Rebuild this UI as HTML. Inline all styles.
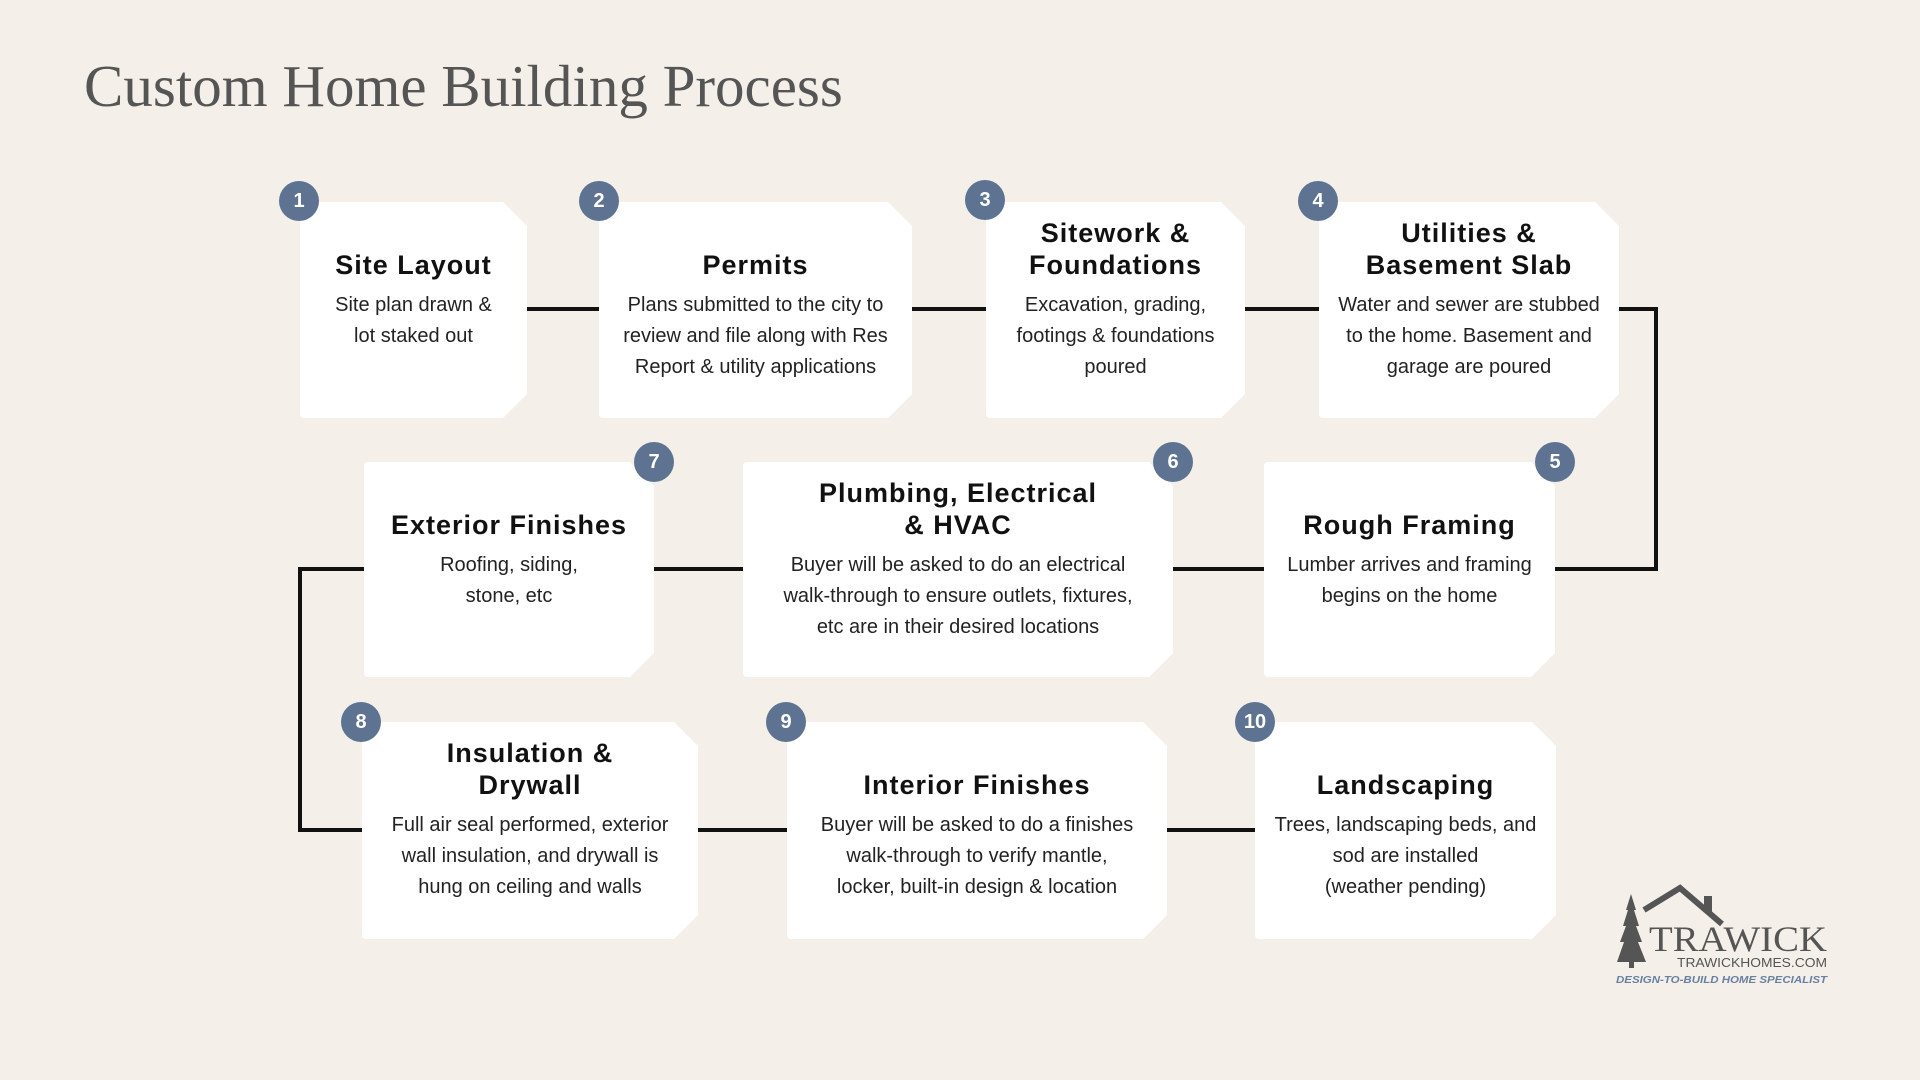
<!DOCTYPE html>
<html><head><meta charset="utf-8"><style>
body{margin:0;width:1920px;height:1080px;background:#f4f0e9;position:relative;overflow:hidden;font-family:"Liberation Sans",sans-serif}
h1{position:absolute;left:84px;top:52px;margin:0;font:400 59px "Liberation Serif",serif;color:#555}
.c{position:absolute;background:#fff;clip-path:polygon(0 0,calc(100% - 24px) 0,100% 24px,100% calc(100% - 24px),calc(100% - 24px) 100%,0 100%);border-radius:4px 0 0 4px}
.t{position:absolute;left:0;right:0;bottom:calc(100% - 79px);text-align:center;font-weight:bold;font-size:27px;line-height:32px;color:#111;letter-spacing:1px}
.b{position:absolute;left:0;right:0;top:88px;text-align:center;font-size:20px;line-height:31px;color:#222}
.n{position:absolute;width:40px;height:40px;margin:-20px 0 0 -20px;border-radius:50%;background:#5d7391;color:#fff;font-weight:bold;font-size:20px;line-height:40px;text-align:center}
.l{position:absolute;background:#111}
</style></head><body>
<h1>Custom Home Building Process</h1>
<div class="l" style="left:520px;top:307px;width:820px;height:4px"></div>
<div class="l" style="left:1610px;top:307px;width:48px;height:4px"></div>
<div class="l" style="left:1654px;top:307px;width:4px;height:264px"></div>
<div class="l" style="left:1540px;top:567px;width:118px;height:4px"></div>
<div class="l" style="left:298px;top:567px;width:1000px;height:4px"></div>
<div class="l" style="left:298px;top:567px;width:4px;height:265px"></div>
<div class="l" style="left:298px;top:828px;width:1000px;height:4px"></div>

<div class="c" style="left:300px;top:202px;width:227px;height:216px"><div class="t">Site Layout</div><div class="b">Site plan drawn &amp;<br>lot staked out</div></div>
<div class="c" style="left:599px;top:202px;width:313px;height:216px"><div class="t">Permits</div><div class="b">Plans submitted to the city to<br>review and file along with Res<br>Report &amp; utility applications</div></div>
<div class="c" style="left:986px;top:202px;width:259px;height:216px"><div class="t">Sitework &amp;<br>Foundations</div><div class="b">Excavation, grading,<br>footings &amp; foundations<br>poured</div></div>
<div class="c" style="left:1319px;top:202px;width:300px;height:216px"><div class="t">Utilities &amp;<br>Basement Slab</div><div class="b">Water and sewer are stubbed<br>to the home. Basement and<br>garage are poured</div></div>

<div class="c" style="left:364px;top:462px;width:290px;height:215px"><div class="t">Exterior Finishes</div><div class="b">Roofing, siding,<br>stone, etc</div></div>
<div class="c" style="left:743px;top:462px;width:430px;height:215px"><div class="t">Plumbing, Electrical<br>&amp; HVAC</div><div class="b">Buyer will be asked to do an electrical<br>walk-through to ensure outlets, fixtures,<br>etc are in their desired locations</div></div>
<div class="c" style="left:1264px;top:462px;width:291px;height:215px"><div class="t">Rough Framing</div><div class="b">Lumber arrives and framing<br>begins on the home</div></div>

<div class="c" style="left:362px;top:722px;width:336px;height:217px"><div class="t">Insulation &amp;<br>Drywall</div><div class="b">Full air seal performed, exterior<br>wall insulation, and drywall is<br>hung on ceiling and walls</div></div>
<div class="c" style="left:787px;top:722px;width:380px;height:217px"><div class="t">Interior Finishes</div><div class="b">Buyer will be asked to do a finishes<br>walk-through to verify mantle,<br>locker, built-in design &amp; location</div></div>
<div class="c" style="left:1255px;top:722px;width:301px;height:217px"><div class="t">Landscaping</div><div class="b">Trees, landscaping beds, and<br>sod are installed<br>(weather pending)</div></div>

<div class="n" style="left:299px;top:201px">1</div>
<div class="n" style="left:599px;top:201px">2</div>
<div class="n" style="left:985px;top:200px">3</div>
<div class="n" style="left:1318px;top:201px">4</div>
<div class="n" style="left:1555px;top:462px">5</div>
<div class="n" style="left:1173px;top:462px">6</div>
<div class="n" style="left:654px;top:462px">7</div>
<div class="n" style="left:361px;top:722px">8</div>
<div class="n" style="left:786px;top:722px">9</div>
<div class="n" style="left:1255px;top:722px">10</div>

<svg style="position:absolute;left:1600px;top:880px" width="240" height="110">
<polygon points="31,14 36,30 34,30 39,46 36,46 42,62 38,62 46,82 17,82 24,62 20,62 26,46 23,46 28,30 26,30" fill="#555"/>
<rect x="29" y="80" width="5" height="8" fill="#555"/>
<polyline points="44,30 80,8 122,44" fill="none" stroke="#555" stroke-width="6"/>
<rect x="104" y="16" width="8" height="16" fill="#555"/>
<text x="49" y="71" font-family="Liberation Serif,serif" font-size="36" textLength="178" lengthAdjust="spacingAndGlyphs" fill="#555">TRAWICK</text>
<text x="77" y="87" font-family="Liberation Sans,sans-serif" font-size="13" textLength="150" lengthAdjust="spacingAndGlyphs" fill="#555">TRAWICKHOMES.COM</text>
<text x="16" y="103" font-family="Liberation Sans,sans-serif" font-size="10" font-weight="bold" font-style="italic" textLength="211" lengthAdjust="spacingAndGlyphs" fill="#6a80a0">DESIGN-TO-BUILD HOME SPECIALIST</text>
</svg>
</body></html>
